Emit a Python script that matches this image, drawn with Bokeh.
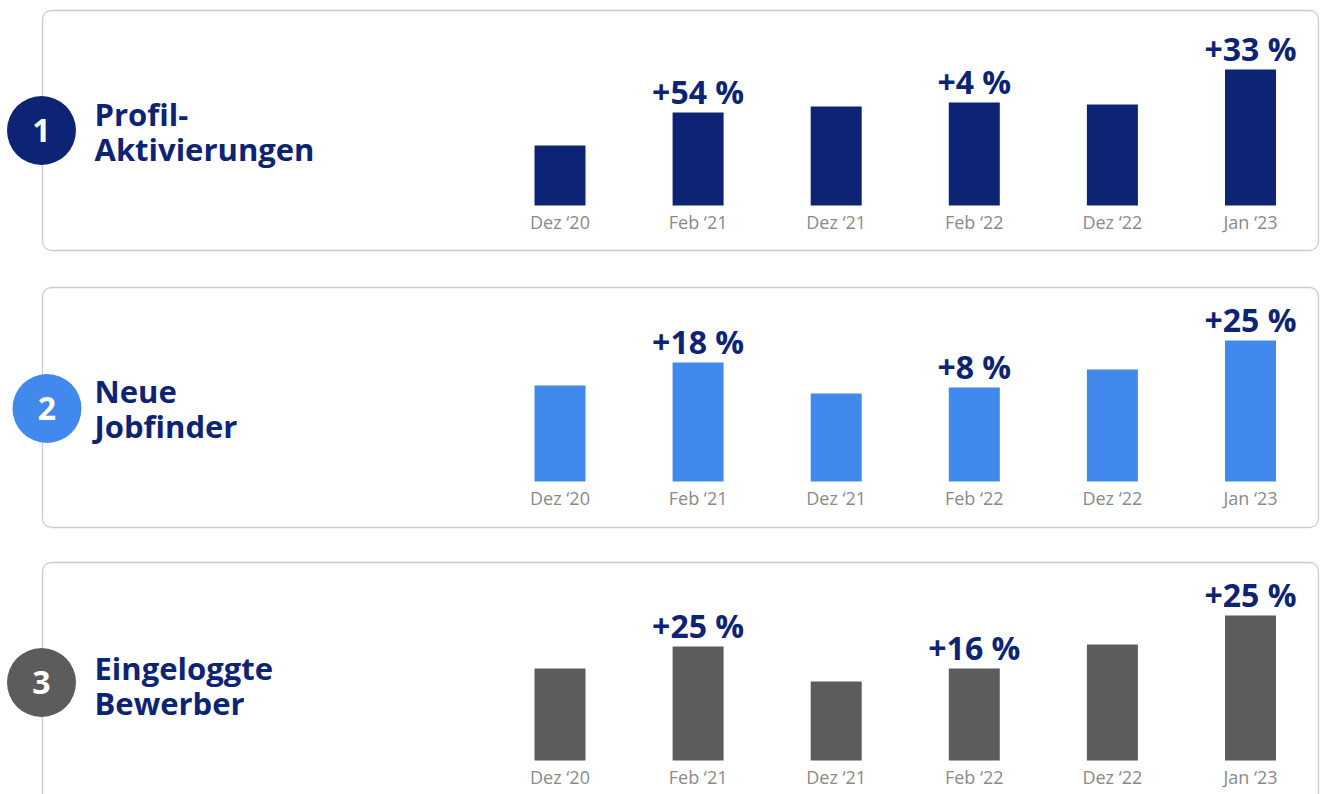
from bokeh.plotting import figure
from bokeh.models import Range1d, BoxAnnotation, ColumnDataSource
from bokeh.layouts import column
from bokeh.core.properties import value
from bokeh.embed import file_html
from bokeh.resources import INLINE

# ---------------- data ----------------
categories = ["Dez \u201820", "Feb \u201821", "Dez \u201821", "Feb \u201822", "Dez \u201822", "Jan \u201823"]

panel_numbers = ["1", "2", "3"]
panel_titles = [["Profil-", "Aktivierungen"], ["Neue", "Jobfinder"], ["Eingeloggte", "Bewerber"]]

profil_values = [60, 93, 99, 103, 101, 136]
jobfinder_values = [96, 119, 88, 94, 112, 141]
bewerber_values = [92, 114, 79, 92, 116, 145]

profil_changes = ["", "+54 %", "", "+4 %", "", "+33 %"]
jobfinder_changes = ["", "+18 %", "", "+8 %", "", "+25 %"]
bewerber_changes = ["", "+25 %", "", "+16 %", "", "+25 %"]

# ---------------- styling / layout ----------------
NAVY = "#0d2474"
BLUE = "#4189ec"
GREY = "#5c5c5c"
LABEL_GREY = "#8a8a8a"
BORDER = "#cccccc"
FONT = "Open Sans"

W = 1322
FIRST_PX = 559.5
STEP_PX = 138.1
X_START = -FIRST_PX / STEP_PX
X_END = X_START + W / STEP_PX
BASELINE_FIX = 11  # compensation for the alphabetic baseline placement


def xpx(px):
    return X_START + px / STEP_PX


panels = [
    dict(values=profil_values, changes=profil_changes, color=NAVY, height=277, base=205, box_top=10, cx=41, cy=130),
    dict(values=jobfinder_values, changes=jobfinder_changes, color=BLUE, height=277, base=204, box_top=10, cx=46.5, cy=131),
    dict(values=bewerber_values, changes=bewerber_changes, color=GREY, height=240, base=206, box_top=8, cx=41, cy=128),
]

figs = []
for k, pan in enumerate(panels):
    H = pan["height"]
    base = pan["base"]
    p = figure(width=W, height=H, output_backend="svg", toolbar_location=None,
               x_range=Range1d(X_START, X_END), y_range=Range1d(base - H, base),
               min_border=0, outline_line_color=None, background_fill_color="white",
               border_fill_color="white")
    p.axis.visible = False
    p.grid.visible = False

    box = BoxAnnotation(left=xpx(42), right=xpx(1318),
                        top=base - pan["box_top"], bottom=base - pan["box_top"] - 240,
                        fill_alpha=0, line_color=BORDER, line_alpha=1.0, line_width=1.3,
                        border_radius=9, level="underlay")
    p.add_layout(box)

    idx = list(range(len(categories)))
    src = ColumnDataSource(dict(x=idx, top=pan["values"], cat=categories))
    p.vbar(x="x", top="top", bottom=0, width=51 / STEP_PX, source=src,
           fill_color=pan["color"], line_color=None)

    p.text(x="x", y=-16, text="cat", source=src, text_align="center", text_baseline="middle",
           text_color=LABEL_GREY, text_font=value(FONT), text_font_size="18px")

    lx = [i for i, c in enumerate(pan["changes"]) if c]
    ly = [pan["values"][i] + 10 + BASELINE_FIX for i in lx]
    lt = [pan["changes"][i] for i in lx]
    p.text(x=lx, y=ly, text=lt, text_align="center", text_baseline="alphabetic",
           text_color=NAVY, text_font=value(FONT), text_font_style="bold", text_font_size="32px")

    cxd = xpx(pan["cx"])
    cyd = base - pan["cy"]
    p.scatter(x=[cxd], y=[cyd], marker="circle", size=69, fill_color=pan["color"], line_color=None)
    p.text(x=[cxd], y=[cyd], text=[panel_numbers[k]], text_align="center", text_baseline="middle",
           text_color="white", text_font=value(FONT), text_font_style="bold", text_font_size="32px")

    t1, t2 = panel_titles[k]
    p.text(x=[xpx(94), xpx(94)], y=[base - 124 + BASELINE_FIX, base - 159 + BASELINE_FIX],
           text=[t1, t2], text_align="left",
           text_baseline="alphabetic", text_color=NAVY, text_font=value(FONT),
           text_font_style="bold", text_font_size="31px")
    figs.append(p)

layout = column(*figs, spacing=0)
open("out.html", "w").write(file_html(layout, INLINE))
